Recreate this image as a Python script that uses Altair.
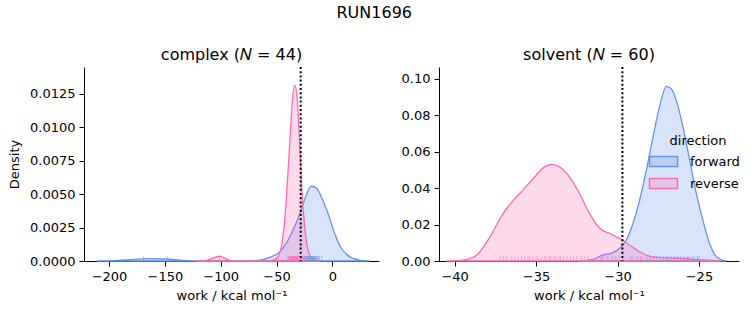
import altair as alt
import pandas as pd

# ---- density curves (x, density) ----
cx_fwd = [-211, -193, -178, -164, -149, -134, -119, -89, -74, -65, -56, -47, -41, -35, -29, -25, -19, -14, -10, -4, 2, 8, 15.5, 24, 33]
cy_fwd = [0, 0.00005, 0.00012, 0.00017, 0.00015, 0.00005, 0, 0, 0.00002, 0.00007, 0.00027, 0.0007, 0.00137, 0.00236, 0.00356, 0.00455, 0.00558, 0.00542, 0.0048, 0.00356, 0.00206, 0.00095, 0.00032, 0.00007, 0]
cx_rev = [-122, -113, -105, -101.5, -98, -92, -86, -59, -53, -48.7, -45.7, -42.7, -40.6, -38.2, -35.8, -33.8, -31.7, -29.3, -27.2, -24.8, -21.8, -17.4, -11]
cy_rev = [0, 0.00005, 0.00027, 0.00037, 0.00027, 0.00005, 0, 0, 0.00007, 0.0003, 0.00107, 0.00306, 0.00555, 0.00878, 0.012, 0.01313, 0.01226, 0.00878, 0.00505, 0.00256, 0.00082, 0.00012, 0]

sx_fwd = [-32.3, -31.5, -30.9, -30.28, -29.87, -29.46, -29.05, -28.64, -28.23, -27.82, -27.42, -27.0, -26.7, -26.39, -25.98, -25.57, -25.16, -24.76, -24.35, -23.94, -23.53, -23.3]
sy_fwd = [0, 0.0009, 0.0033, 0.0046, 0.007, 0.0115, 0.0206, 0.0334, 0.0498, 0.068, 0.0845, 0.0958, 0.0945, 0.0881, 0.0735, 0.0553, 0.037, 0.0224, 0.0097, 0.0024, 0.0004, 0]
sx_rev = [-40.5, -39.5, -38.67, -37.85, -37.03, -36.42, -35.8, -35.19, -34.58, -34.07, -33.56, -32.94, -32.33, -31.71, -31.1, -30.48, -29.87, -29.26, -28.64, -28.03, -27.21, -26.19, -25.16, -24.35, -23.7]
sy_rev = [0, 0.0005, 0.003, 0.013, 0.026, 0.033, 0.039, 0.045, 0.051, 0.053, 0.0516, 0.046, 0.037, 0.026, 0.018, 0.0151, 0.0124, 0.0088, 0.0051, 0.0027, 0.0018, 0.0015, 0.0009, 0.0004, 0]

# ---- individual work values (rug) ----
rug_c_fwd = [-169, -148, -27.3, -26.5, -25.5, -24.8, -24.1, -23.6, -23.0, -22.4, -22.0, -21.6, -21.1, -20.7, -20.3,
             -19.9, -19.4, -19.0, -18.6, -18.1, -17.7, -17.2, -16.8, -16.3, -15.9, -15.4, -14.8, -14.1, -13.5, -12.6, -11.8, -9.6]
rug_c_rev = [-101, -40.0, -39.2, -38.7, -38.1, -37.6, -37.2, -36.8, -36.4, -36.0, -35.6, -35.2, -34.9, -34.5, -34.1,
             -33.8, -33.4, -33.0, -32.6, -32.2, -31.8, -31.3, -30.8, -30.2, -29.5, -28.8, -27.9, -26.8, -25.2]
rug_s_fwd = [-31.0, -30.6, -30.1, -29.1, -28.8, -28.5, -28.2, -28.0, -27.8, -27.6, -27.4, -27.2, -27.0, -26.9, -26.7,
             -26.5, -26.3, -26.1, -25.9, -25.7, -25.6, -25.4, -25.3, -25.1, -25.0]
rug_s_rev = [-37.2, -37.0, -36.8, -36.5, -36.3, -36.1, -35.9, -35.7, -35.5, -35.4, -35.2, -35.0, -34.9, -34.7, -34.5,
             -34.4, -34.2, -34.1, -33.9, -33.8, -33.6, -33.5, -33.3, -33.1, -32.9, -32.7, -32.5, -32.2, -32.0, -31.8,
             -31.2, -30.9, -30.3, -29.9, -29.2, -28.6]

free_energy = {"complex": -28.4, "solvent": -29.7}
titles = {"complex": "complex (𝑁 = 44)", "solvent": "solvent (𝑁 = 60)"}

def dens(panel, direction, xs, ys):
    return pd.DataFrame({"panel": panel, "direction": direction, "work": xs, "density": ys})

def rug(panel, direction, xs):
    return pd.DataFrame({"panel": panel, "direction": direction, "work": xs})

dens_df = pd.concat([dens("complex", "forward", cx_fwd, cy_fwd), dens("complex", "reverse", cx_rev, cy_rev),
                     dens("solvent", "forward", sx_fwd, sy_fwd), dens("solvent", "reverse", sx_rev, sy_rev)])
rug_df = pd.concat([rug("complex", "forward", rug_c_fwd), rug("complex", "reverse", rug_c_rev),
                    rug("solvent", "forward", rug_s_fwd), rug("solvent", "reverse", rug_s_rev)])

DIRS = ["forward", "reverse"]
fill_scale = alt.Scale(domain=DIRS, range=["rgba(100,149,237,0.25)", "rgba(255,105,180,0.25)"])
stroke_scale = alt.Scale(domain=DIRS, range=["#6495ED", "#FF69B4"])
legend = alt.Legend(orient="none", legendX=573, legendY=68, title="direction", titleAnchor="middle",
                    symbolType="M-2.8,-1L2.8,-1L2.8,1L-2.8,1Z", symbolSize=100, symbolStrokeWidth=1.5,
                    labelOffset=20, rowPadding=5, titlePadding=7, padding=0,
                    labelFontSize=13, titleFontSize=13, titleFontWeight="normal",
                    labelFont="DejaVu Sans", titleFont="DejaVu Sans", labelColor="black", titleColor="black")

H = 194

def panel(name, width, xdom, xticks, ydom, yticks, yfmt, ytitle):
    xs = alt.Scale(domain=xdom, nice=False, zero=False)
    ys = alt.Scale(domain=ydom, nice=False)
    x = alt.X("work:Q", scale=xs, axis=alt.Axis(values=xticks, format="d", title="work / kcal mol⁻¹"))
    area = alt.Chart(dens_df[dens_df.panel == name]).mark_area(strokeWidth=1.3, interpolate="monotone").encode(
        x=x,
        y=alt.Y("density:Q", scale=ys, stack=None, axis=alt.Axis(values=yticks, format=yfmt, title=ytitle)),
        fill=alt.Fill("direction:N", scale=fill_scale, legend=legend),
        stroke=alt.Stroke("direction:N", scale=stroke_scale, legend=legend),
    )
    rugs = alt.Chart(rug_df[rug_df.panel == name]).mark_rule(strokeWidth=1, opacity=0.5).encode(
        x=alt.X("work:Q", scale=xs),
        y=alt.value(H - 5),
        y2=alt.value(H),
        stroke=alt.Stroke("direction:N", scale=stroke_scale, legend=None),
    )
    vline = alt.Chart(pd.DataFrame({"work": [free_energy[name]]})).mark_rule(
        color="black", strokeWidth=2, strokeDash=[2, 2.2]).encode(x=alt.X("work:Q", scale=xs))
    return alt.layer(area, rugs, vline).properties(
        width=width, height=H,
        title=alt.TitleParams(titles[name], offset=3))

left = panel("complex", 295, [-222.4, 41.7], [-200, -150, -100, -50, 0], [0, 0.01448],
             [0, 0.0025, 0.005, 0.0075, 0.01, 0.0125], ".4f", "Density")
right = panel("solvent", 300, [-40.96, -22.54], [-40, -35, -30, -25], [0, 0.1064],
              [0, 0.02, 0.04, 0.06, 0.08, 0.10], ".2f", None)

chart = alt.hconcat(left, right, spacing=60, bounds="flush").resolve_scale(
    x="independent", y="independent"
).properties(
    title=alt.TitleParams("RUN1696", anchor="middle", offset=26),
    padding={"left": 8, "top": 5, "right": 5, "bottom": 5},
).configure_view(stroke=None).configure_axis(
    grid=False, domainColor="black", tickColor="black", labelColor="black", titleColor="black",
    labelFont="DejaVu Sans", titleFont="DejaVu Sans", labelFontSize=13, titleFontSize=13,
    titleFontWeight="normal", tickSize=5, labelPadding=4, domainWidth=1, tickWidth=1
).configure_axisY(titlePadding=8).configure_axisX(titlePadding=6).configure_title(
    font="DejaVu Sans", fontSize=16, fontWeight="normal", color="black"
)

chart.save("out.html", embed_options={"renderer": "svg", "actions": False})
